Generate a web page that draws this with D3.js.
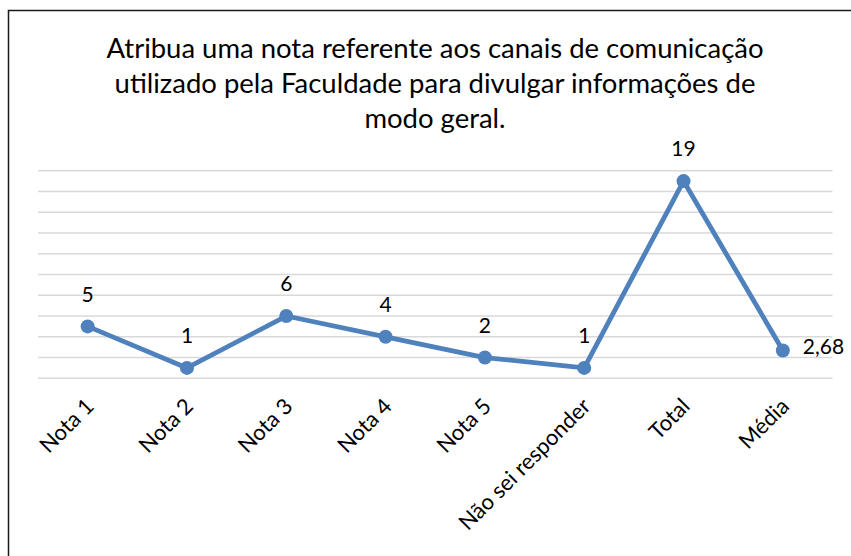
<!DOCTYPE html>
<html><head><meta charset="utf-8">
<script src="https://cdn.jsdelivr.net/npm/d3@7"></script>
<style>body{margin:0;background:#fff}svg{display:block}text{font-family:Lato,"Open Sans",sans-serif;fill:#000}</style>
</head><body><svg id="c" width="851" height="556"></svg>
<script>
const titleLines = ["Atribua uma nota referente aos canais de comunicação","utilizado pela Faculdade para divulgar informações de","modo geral."];
const categories = ["Nota 1","Nota 2","Nota 3","Nota 4","Nota 5","Não sei responder","Total","Média"];
const values = [5,1,6,4,2,1,19,2.68];
const labels = ["5","1","6","4","2","1","19","2,68"];
const yTicks = [0,2,4,6,8,10,12,14,16,18,20];

const svg = d3.select("#c");
svg.append("rect").attr("x",8.5).attr("y",10.5).attr("width",900).attr("height",700)
  .attr("fill","#fff").attr("stroke","#1a1a1a").attr("stroke-width",1.5);

const x = d3.scaleBand().domain(categories).range([38,832.5]);
const y = d3.scaleLinear().domain([0,20]).range([378.3,170.7]);

// title
const tt = svg.append("g").selectAll("text").data(titleLines).join("text")
  .attr("x",435).attr("y",(d,i)=>57.5+i*35.3).attr("text-anchor","middle")
  .style("font-size","26px").text(d=>d);
const w1 = tt.nodes()[0].getComputedTextLength();
tt.style("font-size",(26*657/w1).toFixed(2)+"px");

// gridlines
svg.append("g").selectAll("line").data(yTicks).join("line")
  .attr("x1",38).attr("x2",832.5).attr("y1",d=>y(d)).attr("y2",d=>y(d))
  .attr("stroke","#d9d9d9").attr("stroke-width",1.4);

const cx = d => x(d)+x.bandwidth()/2;

// x axis labels
svg.append("g").selectAll("text").data(categories).join("text")
  .attr("text-anchor","end")
  .attr("transform",d=>`translate(${cx(d)-4},${396}) rotate(-45)`)
  .attr("dy","0.75em")
  .style("font-size","22px").text(d=>d);

const data = categories.map((c,i)=>({c,v:values[i],l:labels[i]}));

svg.append("path").datum(data)
  .attr("d",d3.line().x(d=>cx(d.c)).y(d=>y(d.v)))
  .attr("fill","none").attr("stroke","#4f81bd").attr("stroke-width",4.8).attr("stroke-linejoin","round");

svg.append("g").selectAll("circle").data(data).join("circle")
  .attr("cx",d=>cx(d.c)).attr("cy",d=>y(d.v)).attr("r",7).attr("fill","#4f81bd");

const last = data.length-1;
svg.append("g").selectAll("text").data(data).join("text")
  .attr("x",(d,i)=> i===last ? cx(d.c)+20 : cx(d.c))
  .attr("y",(d,i)=> i===last ? y(d.v)-4 : y(d.v)-32)
  .attr("dy","0.35em")
  .attr("text-anchor",(d,i)=> i===last ? "start":"middle")
  .style("font-size","21px").text(d=>d.l);
</script></body></html>
